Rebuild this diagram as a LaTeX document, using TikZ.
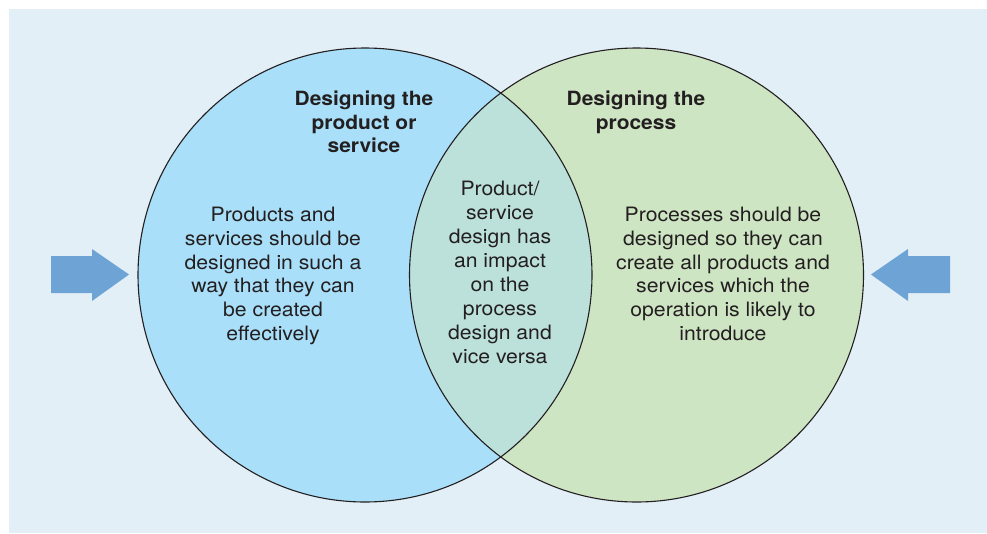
\documentclass[tikz,border=0pt]{standalone}
\usepackage{fontspec}
\setmainfont{TeX Gyre Heros}[FakeStretch=1.07]
\definecolor{bgc}{HTML}{E3EFF6}
\definecolor{lc}{HTML}{A9DFF9}
\definecolor{rc}{HTML}{CEE5C4}
\definecolor{mc}{HTML}{BCE1DB}
\definecolor{arc}{HTML}{6DA3D5}
\definecolor{txc}{HTML}{231F20}
\tikzset{
  body/.style={text=txc, align=center, inner sep=0pt, font=\fontsize{19.8}{23.8}\selectfont},
  midbody/.style={text=txc, align=center, inner sep=0pt, font=\fontsize{19.8}{24}\selectfont},
  ttl/.style={text=txc, align=center, inner sep=0pt, font=\fontsize{19.6}{23.5}\selectfont\bfseries},
  outline/.style={draw=txc, line width=1.1pt},
  bigarrow/.style={fill=arc, draw=none}
}
\begin{document}
\begin{tikzpicture}[x=1pt,y=-1pt]
\useasboundingbox (0,0) rectangle (987,533);
\fill[bgc] (9,9) rectangle (987,533);
\coordinate (cl) at (365,275);
\coordinate (cr) at (636.5,275);
\fill[lc] (cl) circle[radius=227pt];
\fill[rc] (cr) circle[radius=227pt];
\begin{scope}
\clip (cl) circle[radius=227pt];
\fill[mc] (cr) circle[radius=227pt];
\end{scope}
\draw[outline] (cl) circle[radius=227pt];
\draw[outline] (cr) circle[radius=227pt];
\fill[bigarrow] (51,256) -- (92,256) -- (92,249) -- (129,274.5) -- (92,301) -- (92,293) -- (51,293) -- cycle;
\fill[bigarrow] (950,256) -- (908,256) -- (908,249) -- (871,274.5) -- (908,301) -- (908,293) -- (950,293) -- cycle;
% anchor=base is the baseline of the last line
\node[ttl, anchor=base] (lt) at (364,152.7) {Designing the\\product or\\service};
\node[ttl, anchor=base] (rt) at (636,129.2) {Designing the\\process};
\node[body, anchor=base] (lb) at (273,340.5) {Products and\\services should be\\designed in such a\\way that they can\\be created\\effectively};
\node[midbody, anchor=base] (mb) at (500,363) {Product/\\service\\design has\\an impact\\on the\\process\\design and\\vice versa};
\node[body, anchor=base] (rb) at (723,340.5) {Processes should be\\designed so they can\\create all products and\\services which the\\operation is likely to\\introduce};
\end{tikzpicture}
\end{document}
